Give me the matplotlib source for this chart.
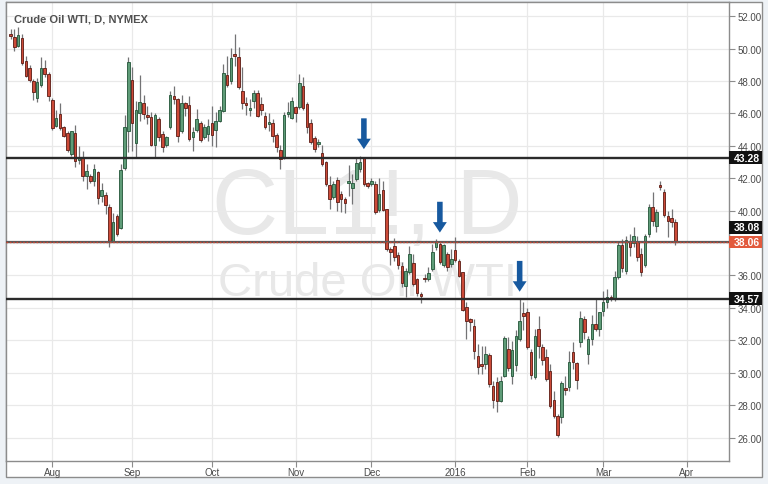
import numpy as np
import pandas as pd
import matplotlib
matplotlib.use('Agg')
import matplotlib.pyplot as plt
import matplotlib.transforms as mtransforms
from matplotlib.patches import Rectangle

# Crude Oil WTI daily candles, 17 Jul 2015 .. 29 Mar 2016
opens = [50.90, 50.74, 50.18, 50.66, 49.22, 48.78, 47.98, 46.95, 47.75, 48.78,
         48.43, 46.81, 45.24, 45.96, 45.14, 44.79, 43.50, 44.77, 43.10, 43.29,
         42.16, 42.16, 41.85, 42.36, 40.92, 40.98, 40.24, 38.15, 39.65, 38.93,
         42.63, 44.94, 48.06, 44.15, 46.00, 46.64, 45.92, 45.76, 44.07, 45.66,
         44.73, 44.07, 45.14, 47.10, 46.89, 44.89, 46.64, 46.50, 44.56, 44.98,
         45.39, 44.52, 44.73, 45.39, 44.98, 45.55, 46.13, 48.39, 48.02, 49.67,
         49.46, 47.40, 46.66, 46.24, 46.79, 47.24, 46.59, 45.82, 45.35, 45.41,
         44.67, 43.77, 43.23, 45.94, 45.70, 46.42, 46.42, 47.72, 46.59, 45.41,
         44.47, 44.10, 43.56, 43.03, 41.59, 40.83, 41.91, 41.03, 40.72, 41.70,
         41.38, 41.96, 42.57, 43.24, 41.70, 41.67, 41.65, 40.06, 41.28, 40.10,
         37.64, 37.80, 37.27, 36.61, 35.33, 36.24, 36.77, 35.78, 34.84, 35.85,
         35.78, 36.40, 37.74, 37.95, 36.65, 37.33, 36.71, 37.59, 36.92, 36.20,
         34.03, 33.31, 32.90, 31.05, 30.52, 30.54, 31.09, 29.20, 29.41, 28.27,
         29.82, 31.46, 29.80, 30.48, 32.08, 33.68, 33.77, 31.30, 29.71, 32.70,
         31.57, 30.95, 30.13, 28.34, 27.35, 27.25, 29.03, 29.10, 31.30, 30.60,
         31.87, 33.32, 31.15, 32.08, 33.01, 32.70, 33.83, 34.35, 34.65, 34.55,
         35.89, 37.88, 36.30, 38.15, 38.00, 38.09, 37.33, 36.65, 38.56, 40.21,
         39.04, 41.59, 41.18, 39.69, 39.53, 39.32]
highs = [51.20, 51.20, 51.36, 50.90, 49.57, 49.00, 48.12, 48.19, 49.46, 49.32,
         48.58, 46.95, 46.21, 46.64, 45.24, 44.89, 44.94, 45.30, 44.00, 43.66,
         42.88, 42.26, 42.88, 42.47, 41.69, 41.13, 40.41, 39.83, 39.79, 42.88,
         45.92, 49.46, 48.85, 46.79, 48.39, 47.16, 46.48, 46.07, 46.00, 45.76,
         44.89, 44.63, 47.40, 47.71, 46.95, 47.16, 46.69, 47.10, 45.14, 46.27,
         45.55, 45.35, 45.66, 46.48, 46.07, 46.48, 49.05, 49.57, 50.04, 50.90,
         50.08, 48.85, 47.00, 46.90, 47.45, 47.45, 47.00, 46.07, 46.00, 45.66,
         44.80, 44.06, 46.07, 46.73, 47.00, 46.48, 48.44, 48.23, 46.70, 45.66,
         44.59, 44.40, 44.06, 43.09, 42.16, 41.85, 42.06, 41.24, 40.82, 42.80,
         42.26, 43.30, 43.40, 43.30, 41.80, 42.00, 41.85, 42.00, 41.85, 40.10,
         37.74, 38.30, 37.43, 36.81, 36.44, 37.84, 37.33, 35.83, 34.96, 36.10,
         36.50, 37.95, 38.25, 38.15, 37.95, 37.43, 37.64, 38.36, 37.02, 36.24,
         34.34, 33.40, 33.31, 31.77, 31.67, 31.67, 31.20, 29.50, 29.71, 29.78,
         32.29, 32.18, 31.98, 32.66, 34.60, 34.34, 33.97, 31.46, 32.70, 33.52,
         31.77, 31.46, 30.54, 28.89, 27.45, 29.50, 29.82, 31.36, 31.87, 30.68,
         33.83, 33.48, 32.29, 33.56, 34.59, 33.77, 35.06, 35.17, 34.80, 36.30,
         38.15, 38.25, 38.45, 38.56, 38.97, 38.46, 37.68, 38.56, 40.41, 41.18,
         40.10, 41.85, 41.34, 40.00, 40.10, 39.49]
lows = [50.60, 49.85, 50.08, 49.00, 48.23, 47.92, 46.83, 46.68, 47.61, 48.23,
        46.79, 44.98, 45.14, 44.98, 44.52, 43.60, 43.40, 42.67, 42.90, 41.85,
        41.33, 41.70, 41.54, 40.41, 40.51, 39.79, 37.73, 38.04, 38.45, 38.87,
        42.50, 43.60, 43.66, 43.29, 45.55, 45.66, 45.35, 44.01, 43.33, 44.32,
        43.60, 43.95, 45.04, 46.58, 44.22, 44.77, 45.86, 44.32, 43.70, 44.83,
        44.22, 44.42, 44.28, 44.01, 43.90, 45.45, 46.07, 47.61, 47.81, 48.90,
        47.51, 46.27, 45.92, 45.87, 46.32, 45.76, 45.90, 45.04, 44.90, 44.26,
        43.64, 42.57, 43.19, 45.76, 45.66, 45.50, 46.28, 46.20, 44.80, 44.12,
        43.64, 43.90, 42.78, 41.50, 40.10, 40.72, 40.00, 39.90, 39.86, 40.90,
        40.41, 41.85, 42.40, 41.55, 41.40, 41.50, 39.80, 39.90, 40.00, 37.53,
        36.65, 36.92, 36.40, 35.27, 34.65, 36.09, 35.37, 34.75, 34.30, 35.60,
        35.68, 36.30, 37.60, 36.70, 36.50, 36.30, 36.50, 36.81, 35.89, 33.83,
        32.08, 32.60, 30.85, 29.92, 29.90, 30.20, 29.10, 27.80, 27.55, 28.17,
        29.71, 30.10, 29.30, 30.13, 31.98, 32.66, 31.46, 29.61, 29.60, 30.90,
        30.50, 29.50, 27.80, 27.20, 26.01, 26.90, 28.60, 28.90, 30.20, 29.00,
        31.60, 32.10, 30.54, 31.70, 32.60, 32.29, 33.48, 34.00, 34.40, 34.40,
        35.80, 36.20, 36.10, 37.20, 37.74, 36.90, 35.95, 36.50, 38.40, 39.04,
        38.66, 41.30, 39.60, 38.36, 39.00, 37.88]
closes = [50.80, 50.12, 50.84, 49.09, 48.33, 48.06, 47.32, 47.92, 48.78, 48.43,
          47.05, 45.08, 45.70, 45.10, 44.61, 43.74, 44.89, 43.04, 43.30, 42.16,
          42.47, 41.81, 42.57, 40.78, 41.27, 40.37, 38.15, 39.28, 38.56, 42.53,
          45.18, 49.20, 45.39, 46.21, 46.69, 45.96, 45.76, 44.07, 45.92, 44.56,
          43.95, 44.52, 47.16, 46.89, 44.63, 46.64, 46.31, 44.40, 44.87, 45.66,
          44.36, 45.18, 45.24, 44.69, 45.55, 46.21, 48.47, 47.77, 49.42, 49.57,
          47.61, 46.62, 46.54, 46.34, 47.24, 45.82, 46.24, 45.15, 45.45, 44.59,
          43.91, 43.19, 45.91, 46.10, 46.79, 46.03, 47.88, 46.32, 45.15, 44.22,
          43.81, 44.25, 42.88, 41.65, 40.72, 41.65, 40.56, 40.72, 40.47, 41.85,
          41.71, 42.93, 43.03, 41.65, 41.50, 41.83, 39.90, 41.03, 40.06, 37.64,
          37.43, 37.12, 36.65, 35.54, 36.30, 37.33, 35.48, 34.92, 34.71, 35.78,
          36.13, 37.47, 38.05, 36.81, 37.88, 36.50, 37.02, 36.98, 35.95, 33.89,
          33.21, 33.11, 31.36, 30.33, 30.39, 31.15, 29.30, 28.34, 28.27, 29.51,
          32.12, 30.27, 31.40, 32.29, 33.21, 33.52, 31.57, 29.86, 32.29, 31.63,
          30.80, 29.61, 27.97, 27.35, 26.15, 29.36, 28.95, 30.64, 30.68, 29.57,
          33.36, 32.49, 32.08, 33.01, 32.70, 33.73, 34.39, 34.65, 34.55, 35.89,
          37.88, 36.44, 38.21, 37.74, 38.42, 37.12, 36.20, 38.46, 40.21, 39.38,
          39.90, 41.44, 39.73, 39.38, 39.32, 38.06]

holidays = ['2015-09-07', '2015-11-26', '2015-12-25', '2016-01-01',
            '2016-01-18', '2016-02-15', '2016-03-25']
month_starts = ['2015-08-01', '2015-09-01', '2015-10-01', '2015-11-01', '2015-12-01',
                '2016-01-01', '2016-02-01', '2016-03-01', '2016-04-01']
month_labels = ['Aug', 'Sep', 'Oct', 'Nov', 'Dec', '2016', 'Feb', 'Mar', 'Apr']

levels = [43.28, 34.57]      # drawn support / resistance lines
level_mid = 38.08
last_price = 38.06
arrow_bars = [93, 113, 134]  # swing highs marked with arrows

# trading-day calendar -> integer positions (no gaps for weekends/holidays)
days = pd.bdate_range('2015-07-17', '2016-04-29')
days = days[~days.isin(pd.to_datetime(holidays))]
tick_pos = [int(np.argmax(days >= pd.Timestamp(m))) for m in month_starts]

o = np.array(opens)
h = np.array(highs)
l = np.array(lows)
c = np.array(closes)
x = np.arange(len(o))

up_col, up_edge = '#5f9c78', '#225437'
dn_col, dn_edge = '#cc4a38', '#5b1a13'
wick_col = '#737375'
grid_col = '#e9e9e9'
frame_col = '#8c8c8c'
text_col = '#4a4a4a'

fig = plt.figure(figsize=(7.68, 4.85), dpi=100, facecolor='#eef2f6')
W, H = 768, 485

# white panel behind the axis label strips
fig.patches.append(Rectangle((6 / W, (H - 478) / H), (762 - 6) / W, (478 - 3) / H,
                             transform=fig.transFigure, facecolor='white',
                             edgecolor=frame_col, linewidth=1, zorder=-1))

ax = fig.add_axes([6 / W, (H - 462) / H, (729 - 6) / W, (462 - 3) / H])
ax.set_zorder(1)
ax.set_facecolor('white')

# watermark
ax.text(0.5, 0.497, 'CL1!, D', transform=ax.transAxes, ha='center', va='baseline',
        fontsize=66, color='#e8e8e8', family='Liberation Sans', zorder=0)
ax.text(0.5, 0.362, 'Crude Oil WTI', transform=ax.transAxes, ha='center', va='baseline',
        fontsize=34, color='#e8e8e8', family='Liberation Sans', zorder=0)

# candles
up = c >= o
ax.vlines(x, l, h, color=wick_col, linewidth=0.9, zorder=2)
body = np.maximum(np.abs(c - o), 0.04)
ax.bar(x[up], body[up], bottom=np.minimum(o, c)[up], width=0.66,
       color=up_col, edgecolor=up_edge, linewidth=0.6, zorder=3)
ax.bar(x[~up], body[~up], bottom=np.minimum(o, c)[~up], width=0.66,
       color=dn_col, edgecolor=dn_edge, linewidth=0.6, zorder=3)

# horizontal levels
for lv in levels:
    ax.axhline(lv, color='#2b2b2b', linewidth=1.7, zorder=4)
ax.axhline(level_mid, color='#5a5a5a', linewidth=1.6, zorder=4)
ax.axhline(last_price, color='#d0442f', linewidth=1.0, linestyle=(0, (1.2, 1.2)), zorder=4)

# arrows over swing highs
for k in arrow_bars:
    top = h[k - 1:k + 2].max() + 0.4
    ax.annotate('', xy=(k, top), xytext=(k, top + 1.9),
                arrowprops=dict(arrowstyle='simple,head_length=0.75,head_width=1.0,tail_width=0.4',
                                fc='#17599f', ec='none', mutation_scale=10,
                                shrinkA=0, shrinkB=0), zorder=5)

ax.set_xlim(-1.2, 189.1)
ax.set_ylim(24.55, 52.88)

# price scale on the right; the 38.00 label sits under the last-price box
yt = np.arange(26, 53, 2)
ax.yaxis.tick_right()
ax.set_yticks(yt)
ax.set_yticklabels(['' if v == 38 else f'{v:.2f}' for v in yt])
ax.set_xticks(tick_pos)
ax.set_xticklabels(month_labels)
ax.tick_params(axis='both', colors=frame_col, labelcolor=text_col, labelsize=7,
               length=4, width=0.8, pad=2)
ax.tick_params(axis='x', pad=0.5)
for lab in ax.get_xticklabels() + ax.get_yticklabels():
    lab.set_family('Liberation Sans')
ax.grid(True, color=grid_col, linewidth=0.9, zorder=0)
ax.set_axisbelow(True)
for sp in ax.spines.values():
    sp.set_color(frame_col)
    sp.set_linewidth(1)

# price boxes on the right scale
trans = mtransforms.blended_transform_factory(ax.transAxes, ax.transData)
bw = 33 / 723
bh = 12.5 / 16.2
boxes = [(levels[0], levels[0], '#111111'),
         (level_mid, level_mid + 14.5 / 16.2, '#111111'),
         (last_price, last_price, '#e25a3d'),
         (levels[1], levels[1], '#111111')]
for val, ypos, col in boxes:
    ax.add_patch(Rectangle((1.0, ypos - bh / 2), bw, bh, transform=trans,
                           facecolor=col, edgecolor='none', clip_on=False, zorder=6))
    ax.text(1.0 + bw / 2 + 0.002, ypos, f'{val:.2f}', transform=trans, ha='center',
            va='center', color='white', fontsize=7.5, fontweight='bold',
            family='Liberation Sans', clip_on=False, zorder=7)

ax.text(8 / 723, 1 - 11 / 459, 'Crude Oil WTI, D, NYMEX', transform=ax.transAxes,
        ha='left', va='top', fontsize=8, fontweight='bold', color='#505050',
        family='Liberation Sans', zorder=7)

fig.savefig('out.png', dpi=100, facecolor=fig.get_facecolor())
